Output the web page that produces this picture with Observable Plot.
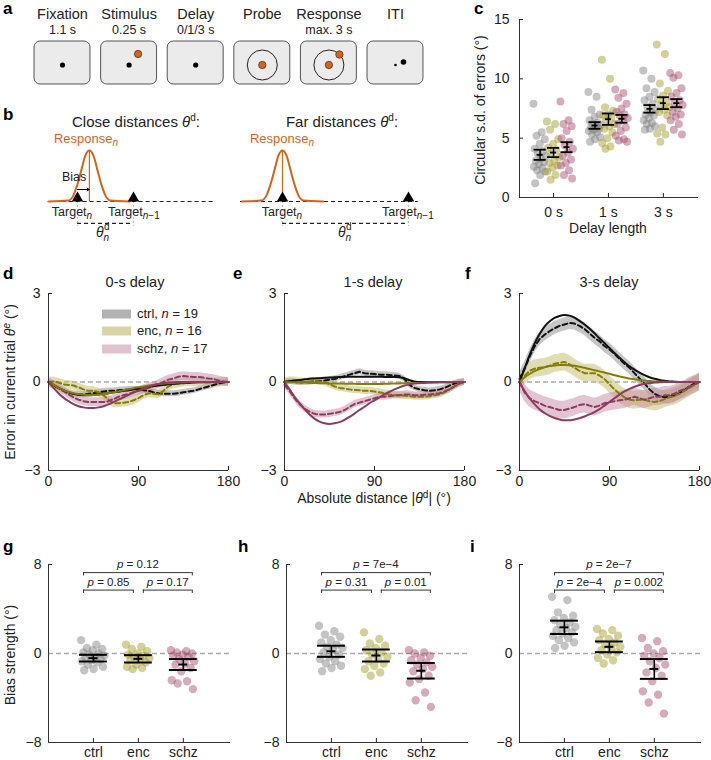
<!DOCTYPE html>
<html><head><meta charset="utf-8">
<script src="https://cdn.jsdelivr.net/npm/d3@7"></script>
<script src="https://cdn.jsdelivr.net/npm/@observablehq/plot@0.6"></script>
<style>
html,body{margin:0;padding:0;background:#fff;}
#fig{position:relative;width:711px;height:760px;overflow:hidden;font-family:"Liberation Sans",Arial,sans-serif;}
#overlay{position:absolute;left:0;top:0;pointer-events:none;}
</style></head><body><div id="fig"></div>
<script>
// ---------- data ----------
const groups = ["ctrl", "enc", "schz"];
const groupN = [19, 16, 17];

// panel a
const screens = ["Fixation", "Stimulus", "Delay", "Probe", "Response", "ITI"];
const durations = ["1.1 s", "0.25 s", "0/1/3 s", "", "max. 3 s", ""];
const fixationScreens = [0, 1, 2];
const probeScreens = [3, 4];
const stimulusScreens = [1];
const responseScreens = [4];
const itiScreens = [5];

// panel b (schematic, degrees)
const bPrevDistance = [40, 90];
const bBias = [8.5, 0];
const bBaselineStart = [-21, -30];
const bBaselineEnd = [97, 97];
const bellOffset = [-29, -15, -11.4, -8.6, -5.7, -2.9, 0, 2.9, 5.7, 8.6, 11.4, 15, 29];
const bellHeight = [0, 0.02, 0.12, 0.33, 0.62, 0.9, 1, 0.9, 0.62, 0.33, 0.12, 0.02, 0];

// panel c: circular s.d. of errors, per group, per delay
const delayLabels = ["0 s", "1 s", "3 s"];
const sdCtrl = [
  [7.9,5.5,5.2,4.9,4.5,4.1,3.9,3.7,3.5,3.3,3.1,3.0,2.8,2.6,2.5,2.3,2.2,1.9,1.2],
  [8.9,8.5,7.4,7.0,6.8,6.5,6.3,6.2,6.1,6.0,5.9,5.8,5.7,5.6,5.5,5.3,5.1,4.9,4.7],
  [10.7,10.0,9.2,8.9,8.5,8.2,7.9,7.6,7.4,7.2,7.0,6.9,6.7,6.5,6.3,6.2,6.0,5.8,5.7]
];
const sdEnc = [
  [6.4,6.2,5.7,4.9,4.5,4.2,4.0,3.7,3.4,3.1,2.9,2.7,2.5,2.2,1.9,1.5],
  [11.6,10.0,7.6,7.3,7.0,6.9,6.7,6.5,6.2,6.0,5.8,5.5,5.0,4.6,4.3,4.1],
  [12.9,12.1,9.6,9.0,8.6,8.3,8.0,7.8,7.6,7.4,7.2,6.9,5.9,5.4,5.3,4.7]
];
const sdSchz = [
  [8.1,6.5,6.2,6.0,5.6,5.0,4.7,4.4,4.1,3.8,3.5,3.2,2.9,2.7,2.3,1.9,1.6],
  [9.1,8.8,8.4,7.9,7.5,7.2,7.0,6.9,6.7,6.5,6.2,5.9,5.6,5.2,4.9,4.8,4.7],
  [10.5,10.3,10.1,9.2,8.8,8.5,8.2,8.0,7.8,7.5,7.2,7.0,6.8,6.5,6.2,5.7,5.3]
];
const sdMean = [[3.6, 6.07, 7.47], [3.79, 6.6, 7.95], [4.24, 6.63, 7.95]];
const sdHalf = [[0.43, 0.28, 0.32], [0.39, 0.48, 0.5], [0.42, 0.33, 0.34]];

// panels d-f: serial bias curves
const panelTitles = ["0-s delay", "1-s delay", "3-s delay"];
const dist = [0,5,10,15,20,25,30,35,40,45,50,55,60,65,70,75,80,85,90,95,100,105,110,115,120,125,130,135,140,145,150,155,160,165,170,175,180];
const fitCtrl = [
  [0,-0.1,-0.2,-0.28,-0.35,-0.4,-0.43,-0.45,-0.45,-0.44,-0.42,-0.4,-0.38,-0.35,-0.33,-0.3,-0.28,-0.25,-0.22,-0.2,-0.17,-0.14,-0.12,-0.1,-0.08,-0.06,-0.05,-0.04,-0.03,-0.02,-0.01,-0.01,0,0,0,0,0],
  [0,0.03,0.05,0.07,0.09,0.11,0.12,0.13,0.14,0.15,0.16,0.17,0.17,0.18,0.18,0.18,0.18,0.18,0.18,0.18,0.17,0.17,0.17,0.16,0.13,0.06,0.02,0,0,0,0,0,0,0,0,0,0],
  [0,0.45,0.9,1.3,1.62,1.88,2.05,2.17,2.24,2.27,2.25,2.18,2.07,1.95,1.81,1.65,1.48,1.32,1.15,0.98,0.82,0.67,0.53,0.42,0.32,0.23,0.16,0.11,0.07,0.04,0.02,0.01,0,0,0,0,0]
];
const meanCtrl = [
  [0,-0.12,-0.2,-0.3,-0.35,-0.4,-0.42,-0.42,-0.4,-0.38,-0.35,-0.32,-0.3,-0.3,-0.28,-0.27,-0.25,-0.24,-0.25,-0.28,-0.3,-0.35,-0.38,-0.4,-0.4,-0.4,-0.38,-0.35,-0.32,-0.3,-0.25,-0.2,-0.15,-0.1,-0.05,-0.02,0],
  [0,0.02,0,-0.02,0,0,0.02,0.03,0.05,0.08,0.1,0.15,0.2,0.25,0.3,0.35,0.3,0.28,0.27,0.25,0.25,0.24,0.22,0.2,0.1,-0.1,-0.2,-0.25,-0.28,-0.3,-0.28,-0.25,-0.2,-0.12,-0.05,0,0],
  [0.1,0.45,0.85,1.2,1.45,1.6,1.72,1.82,1.9,1.95,2.0,1.98,1.9,1.8,1.65,1.5,1.38,1.22,1.1,0.95,0.78,0.62,0.48,0.3,0.12,-0.05,-0.25,-0.4,-0.48,-0.52,-0.5,-0.45,-0.38,-0.28,-0.15,-0.05,0]
];
const fitEnc = [
  [0,-0.1,-0.2,-0.28,-0.34,-0.38,-0.41,-0.43,-0.44,-0.44,-0.43,-0.41,-0.38,-0.35,-0.32,-0.28,-0.25,-0.21,-0.18,-0.15,-0.12,-0.09,-0.07,-0.05,-0.04,-0.03,-0.02,-0.02,-0.01,-0.01,-0.01,0,0,0,0,0,0],
  [0,-0.01,-0.01,-0.02,-0.02,-0.03,-0.03,-0.04,-0.04,-0.05,-0.05,-0.05,-0.06,-0.06,-0.06,-0.07,-0.07,-0.07,-0.07,-0.07,-0.06,-0.06,-0.05,-0.05,-0.04,-0.04,-0.03,-0.03,-0.02,-0.02,-0.01,-0.01,-0.01,0,0,0,0],
  [0,0.15,0.27,0.37,0.44,0.5,0.54,0.56,0.58,0.58,0.57,0.55,0.52,0.48,0.44,0.4,0.36,0.32,0.28,0.23,0.19,0.15,0.12,0.09,0.07,0.05,0.03,0.02,0.01,0.01,0,0,0,0,0,0,0]
];
const meanEnc = [
  [0,0.02,-0.02,-0.08,-0.1,-0.12,-0.18,-0.25,-0.3,-0.3,-0.35,-0.45,-0.6,-0.72,-0.72,-0.7,-0.68,-0.62,-0.55,-0.45,-0.38,-0.4,-0.42,-0.3,-0.15,-0.08,-0.05,-0.02,0,0,0,0,-0.02,-0.02,-0.02,0,0],
  [0,0.05,0.05,0.02,0,0.02,0.03,0.02,0,-0.08,-0.15,-0.2,-0.22,-0.25,-0.27,-0.28,-0.3,-0.3,-0.32,-0.35,-0.38,-0.42,-0.45,-0.45,-0.47,-0.48,-0.5,-0.5,-0.5,-0.48,-0.45,-0.42,-0.35,-0.25,-0.15,-0.05,0],
  [0,0.2,0.38,0.45,0.48,0.5,0.55,0.62,0.65,0.68,0.6,0.48,0.38,0.3,0.3,0.3,0.22,0.1,-0.08,-0.25,-0.4,-0.52,-0.6,-0.62,-0.6,-0.6,-0.65,-0.68,-0.65,-0.58,-0.52,-0.48,-0.4,-0.3,-0.2,-0.1,0]
];
const fitSchz = [
  [0,-0.2,-0.38,-0.53,-0.65,-0.75,-0.82,-0.86,-0.88,-0.88,-0.86,-0.82,-0.76,-0.68,-0.6,-0.52,-0.44,-0.36,-0.29,-0.22,-0.16,-0.11,-0.07,-0.04,-0.02,-0.01,0,0,0,0,0,0,0,0,0,0,0],
  [0,-0.25,-0.5,-0.72,-0.92,-1.1,-1.24,-1.34,-1.4,-1.42,-1.4,-1.36,-1.28,-1.18,-1.07,-0.95,-0.84,-0.72,-0.62,-0.52,-0.42,-0.33,-0.25,-0.18,-0.12,-0.08,-0.05,-0.04,-0.03,-0.02,-0.02,-0.01,-0.01,-0.01,0,0,0],
  [0,-0.3,-0.55,-0.75,-0.92,-1.05,-1.15,-1.22,-1.27,-1.3,-1.3,-1.27,-1.23,-1.17,-1.1,-1.02,-0.92,-0.8,-0.68,-0.55,-0.43,-0.32,-0.23,-0.16,-0.1,-0.06,-0.04,-0.02,-0.01,0,0,0,0,0,0,0,0]
];
const meanSchz = [
  [0,-0.1,-0.2,-0.3,-0.42,-0.52,-0.6,-0.65,-0.68,-0.68,-0.68,-0.68,-0.65,-0.58,-0.5,-0.45,-0.4,-0.35,-0.3,-0.25,-0.2,-0.15,-0.08,0,0.08,0.12,0.18,0.2,0.18,0.17,0.17,0.15,0.12,0.1,0.05,0.02,0],
  [-0.1,-0.3,-0.55,-0.75,-0.9,-1.0,-1.08,-1.1,-1.1,-1.08,-1.05,-1.02,-0.95,-0.85,-0.75,-0.7,-0.65,-0.6,-0.55,-0.5,-0.5,-0.48,-0.45,-0.45,-0.42,-0.42,-0.45,-0.45,-0.43,-0.42,-0.4,-0.38,-0.32,-0.25,-0.15,-0.05,0],
  [0,-0.35,-0.55,-0.65,-0.72,-0.8,-0.85,-0.9,-0.95,-0.95,-0.9,-0.85,-0.78,-0.75,-0.8,-0.85,-0.8,-0.72,-0.68,-0.65,-0.62,-0.6,-0.55,-0.5,-0.55,-0.6,-0.55,-0.5,-0.5,-0.45,-0.45,-0.4,-0.3,-0.25,-0.15,-0.08,0]
];
const bandHalf = [[0.1, 0.15, 0.15], [0.1, 0.12, 0.12], [0.22, 0.3, 0.3]];

// panels g-i: bias strength per subject
const biasCtrl = [
  [1.2,0.8,0.5,0.4,0.3,0.1,0.0,-0.1,-0.2,-0.3,-0.4,-0.5,-0.6,-0.7,-0.8,-1.0,-1.2,-1.4,-1.5],
  [2.5,2.0,1.7,1.5,1.2,1.0,0.8,0.6,0.5,0.3,0.1,-0.1,-0.3,-0.5,-0.7,-0.9,-1.1,-1.3,-1.6],
  [5.1,4.8,3.7,3.4,3.2,3.0,2.8,2.6,2.4,2.3,2.1,1.9,1.8,1.6,1.4,1.2,1.0,0.7,0.5]
];
const biasEnc = [
  [0.8,0.6,0.4,0.2,0.0,-0.1,-0.2,-0.3,-0.4,-0.5,-0.6,-0.8,-1.0,-1.2,-1.3,-1.4],
  [1.9,1.3,0.9,0.7,0.5,0.3,0.1,-0.1,-0.3,-0.5,-0.7,-0.9,-1.1,-1.4,-1.7,-2.0],
  [2.2,2.1,1.8,1.6,1.3,1.2,1.0,0.8,0.6,0.5,0.3,0.1,-0.1,-0.4,-0.6,-0.9]
];
const biasSchz = [
  [0.3,0.2,0.1,0.0,-0.1,-0.2,-0.3,-0.5,-0.7,-0.9,-1.0,-1.3,-1.6,-2.4,-2.5,-2.7,-3.2],
  [0.3,0.1,0.0,-0.2,-0.4,-0.6,-0.8,-1.0,-1.2,-1.4,-1.6,-2.0,-2.3,-2.6,-3.5,-4.2,-4.8],
  [1.4,1.1,0.5,0.2,0.0,-0.2,-0.4,-0.7,-1.0,-1.3,-1.7,-2.0,-2.5,-3.4,-3.7,-4.4,-5.4]
];
const biasMean = [[-0.42, 0.2, 2.35], [-0.48, -0.18, 0.6], [-0.99, -1.55, -1.39]];
const biasHalf = [[0.3, 0.5, 0.6], [0.33, 0.54, 0.48], [0.49, 0.7, 0.89]];
const pPairs = [[0, 2], [0, 1], [1, 2]];
const pLabels = [
  ["p = 0.12", "p = 0.85", "p = 0.17"],
  ["p = 7e−4", "p = 0.31", "p = 0.01"],
  ["p = 2e−7", "p = 2e−4", "p = 0.002"]
];

// ---------- styles ----------
const FONT = '"Liberation Sans", Arial, Helvetica, sans-serif';
const ORANGE = "#d9621a";
const lineColors = ["#111111", "#847e00", "#8b3c60"];
const bandColors = ["#8e8e8e", "#c2bb6a", "#c88aa5"];
const dotColors = ["#7c7c7c", "#9e971c", "#9f4669"];
const baseStyle = {fontFamily: FONT, fontSize: "14px", color: "#222", background: "transparent", overflow: "visible"};
const intFmt = d => d < 0 ? `−${-d}` : `${d}`;
const jit = i => ((i * 0.6180339887) % 1) - 0.5;
const fig = document.getElementById("fig");
function place(el, left, top) {
  el.style.position = "absolute"; el.style.left = left + "px"; el.style.top = top + "px";
  fig.appendChild(el);
}
function errMarks(rows, xf, capW, tickW, sw) {
  return [
    Plot.ruleX(rows, {x: xf, y1: r => r.m - r.h, y2: r => r.m + r.h, stroke: "#000", strokeWidth: sw * 0.8}),
    Plot.ruleY(rows, {y: r => r.m - r.h, x1: r => xf(r) - capW, x2: r => xf(r) + capW, stroke: "#000", strokeWidth: sw}),
    Plot.ruleY(rows, {y: r => r.m + r.h, x1: r => xf(r) - capW, x2: r => xf(r) + capW, stroke: "#000", strokeWidth: sw}),
    Plot.ruleY(rows, {y: r => r.m, x1: r => xf(r) - tickW, x2: r => xf(r) + tickW, stroke: "#000", strokeWidth: sw})
  ];
}

// ---------- panel a ----------
const aRows = screens.map((s, i) => ({i, s, d: durations[i]}));
const pick = idx => aRows.filter(r => idx.includes(r.i));
place(Plot.plot({
  width: 470, height: 95, marginLeft: 62, marginRight: 75, marginTop: 41, marginBottom: 11,
  style: baseStyle,
  x: {domain: [0, 5], axis: null}, y: {domain: [-1, 1], axis: null},
  marks: [
    Plot.rect(aRows, {x1: r => r.i - 0.42, x2: r => r.i + 0.42, y1: -1, y2: 1, rx: 6, fill: "#ebebeb", stroke: "#555", strokeWidth: 1}),
    Plot.text(aRows, {x: "i", text: "s", frameAnchor: "top", dy: -23, lineAnchor: "bottom", fontSize: 14.5}),
    Plot.text(aRows, {x: "i", text: "d", frameAnchor: "top", dy: -8, lineAnchor: "bottom", fontSize: 12.5}),
    Plot.dot(pick(fixationScreens), {x: "i", y: 0, dy: 2, r: 2.6, fill: "#000"}),
    Plot.dot(pick(probeScreens), {x: "i", y: 0, dy: 2, r: 15, stroke: "#222", fill: "none", strokeWidth: 1}),
    Plot.dot(pick(probeScreens), {x: "i", y: 0, dy: 2, r: 3.7, fill: ORANGE, stroke: "#333", strokeWidth: 0.7}),
    Plot.dot(pick(stimulusScreens), {x: "i", y: 0, dx: 9, dy: -9, r: 3.7, fill: ORANGE, stroke: "#333", strokeWidth: 0.7}),
    Plot.dot(pick(responseScreens), {x: "i", y: 0, dx: 10.5, dy: -8.5, r: 3.7, fill: ORANGE, stroke: "#333", strokeWidth: 0.7}),
    Plot.dot(pick(itiScreens), {x: "i", y: 0, dy: 2, r: 1.3, fill: "#000"}),
    Plot.dot(pick(itiScreens), {x: "i", y: 0, dx: 8, dy: -1, r: 2.8, fill: "#000"})
  ]
}), 0, 0);

// ---------- panel b ----------
function plotB(k) {
  const dom = k === 0 ? [-55, 112.86] : [-33.57, 134.29];
  const T = 0, P = bPrevDistance[k], R = bBias[k];
  const bell = bellOffset.map((o, j) => ({x: R + o, y: bellHeight[j]}));
  return Plot.plot({
    width: 235, height: 150, margin: 0, style: baseStyle,
    x: {domain: dom, axis: null}, y: {domain: [-0.961, 1.98], axis: null},
    marks: [
      Plot.ruleX([T, P], {y1: 0, y2: -0.49, stroke: "#aaa", strokeDasharray: "2,2", strokeWidth: 0.8}),
      Plot.ruleY([0], {x1: bBaselineStart[k], x2: bBaselineEnd[k], stroke: "#222", strokeDasharray: "4,3", strokeWidth: 1.2}),
      Plot.ruleY([-0.43], {x1: T, x2: P, stroke: "#222", strokeDasharray: "4,3", strokeWidth: 1.2}),
      Plot.line(bell, {x: "x", y: "y", stroke: ORANGE, strokeWidth: 2, curve: "monotone-x"}),
      Plot.ruleX([R], {y1: 0, y2: 1, stroke: ORANGE, strokeWidth: 1.2}),
      Plot.dot([T, P], {x: d => d, y: 0, symbol: "triangle", r: 4.3, dy: -3.3, fill: "#000"}),
      k === 0 ? Plot.arrow([{a: T, b: R}], {x1: "a", x2: "b", y1: 0.235, y2: 0.235, stroke: "#000", strokeWidth: 1, headLength: 4}) : null
    ]
  });
}
place(plotB(0), 0, 100);
place(plotB(1), 235, 100);

// ---------- panel c ----------
const cSd = [sdCtrl, sdEnc, sdSchz];
const cRows = [];
cSd.forEach((byDelay, gi) => byDelay.forEach((vals, di) => vals.forEach((v, i) => cRows.push({gi, di, v, i}))));
const cOff = [-0.245, 0, 0.245];
const cErr = [];
groups.forEach((g, gi) => delayLabels.forEach((l, di) => cErr.push({gi, di, m: sdMean[gi][di], h: sdHalf[gi][di]})));
const cx = r => r.di + cOff[r.gi];
place(Plot.plot({
  width: 241, height: 225, marginLeft: 49, marginRight: 13, marginTop: 19, marginBottom: 28,
  style: baseStyle,
  color: {type: "identity"},
  x: {domain: [-0.62, 2.64], ticks: [0, 1, 2], tickFormat: i => delayLabels[i], tickSize: -4, tickPadding: 14, label: null},
  y: {domain: [0, 15], ticks: [0, 5, 10, 15], tickFormat: intFmt, tickSize: -4, tickPadding: 14, label: null},
  marks: [
    Plot.ruleX([-0.62], {stroke: "#333"}),
    Plot.ruleY([0], {stroke: "#333"}),
    Plot.dot(cRows, {x: r => cx(r) + jit(r.i) * 0.24, y: "v", r: 4, fill: r => dotColors[r.gi], fillOpacity: 0.45}),
    ...errMarks(cErr, cx, 0.11, 0.055, 1.8)
  ]
}), 470, 0);

// ---------- panels d-f ----------
const fits = [fitCtrl, fitEnc, fitSchz];
const means = [meanCtrl, meanEnc, meanSchz];
function curvePanel(p) {
  const rowsBy = groups.map((g, gi) => dist.map((x, k) => ({x, fit: fits[gi][p][k], mean: means[gi][p][k], h: bandHalf[p][gi]})));
  return Plot.plot({
    width: 235, height: 225, marginLeft: 48, marginRight: 7, marginTop: 18, marginBottom: 30,
    style: baseStyle,
    x: {domain: [0, 180], ticks: [0, 90, 180], tickFormat: intFmt, tickSize: -4, tickPadding: 10, label: null},
    y: {domain: [-3, 3], ticks: [-3, 0, 3], tickFormat: intFmt, tickSize: -4, tickPadding: 12, label: null},
    marks: [
      Plot.ruleY([0], {stroke: "#aaa", strokeWidth: 1.5, strokeDasharray: "5,3"}),
      ...rowsBy.map((rows, gi) => Plot.areaY(rows, {x: "x", y1: r => r.mean - r.h, y2: r => r.mean + r.h, fill: bandColors[gi], fillOpacity: 0.5})),
      ...rowsBy.map((rows, gi) => Plot.line(rows, {x: "x", y: "mean", stroke: lineColors[gi], strokeWidth: 2, strokeDasharray: "5,3"})),
      ...rowsBy.map((rows, gi) => Plot.line(rows, {x: "x", y: "fit", stroke: lineColors[gi], strokeWidth: 2, curve: "monotone-x"})),
      Plot.ruleX([0], {stroke: "#333"}),
      Plot.ruleY([-3], {stroke: "#333"})
    ]
  });
}
place(curvePanel(0), 0, 275);
place(curvePanel(1), 236, 275);
place(curvePanel(2), 471, 275);

// ---------- panels g-i ----------
const biasSets = [biasCtrl, biasEnc, biasSchz];
const bracketY = [5.7, 7.27];
const bx1 = r => r.a === 0 ? r.a - 0.22 : r.a + 0.11;
const bx2 = r => r.b === 2 ? r.b + 0.2 : r.b - 0.11;
function biasPanel(p) {
  const dots = [];
  biasSets.forEach((set, gi) => set[p].forEach((v, i) => dots.push({gi, v, i})));
  const err = groups.map((g, gi) => ({gi, m: biasMean[gi][p], h: biasHalf[gi][p]}));
  const br = pPairs.map(([a, b], j) => ({a, b, label: pLabels[p][j], level: (a === 0 && b === 2) ? 1 : 0}));
  const svg = Plot.plot({
    width: 240, height: 214, marginLeft: 48, marginRight: 10, marginTop: 18, marginBottom: 18,
    style: baseStyle,
    color: {type: "identity"},
    x: {domain: [-1, 3.05], ticks: [0, 1, 2], tickFormat: i => groups[i], tickSize: -4, tickPadding: 9, label: null},
    y: {domain: [-8, 8], ticks: [-8, 0, 8], tickFormat: intFmt, tickSize: -4, tickPadding: 11, label: null},
    marks: [
      Plot.ruleY([0], {stroke: "#aaa", strokeWidth: 1.5, strokeDasharray: "5,3"}),
      Plot.ruleX([-1], {stroke: "#333"}),
      Plot.ruleY([-8], {stroke: "#333"}),
      Plot.dot(dots, {x: r => r.gi + jit(r.i) * 0.55, y: "v", r: 4.2, fill: r => dotColors[r.gi], fillOpacity: 0.45}),
      ...errMarks(err, r => r.gi, 0.31, 0.1, 2),
      Plot.ruleY(br, {y: r => bracketY[r.level], x1: bx1, x2: bx2, stroke: "#333", strokeWidth: 1}),
      Plot.ruleX(br, {x: bx1, y1: r => bracketY[r.level] - 0.3, y2: r => bracketY[r.level], stroke: "#333", strokeWidth: 1}),
      Plot.ruleX(br, {x: bx2, y1: r => bracketY[r.level] - 0.3, y2: r => bracketY[r.level], stroke: "#333", strokeWidth: 1}),
      Plot.text(br, {x: r => (bx1(r) + bx2(r)) / 2, y: r => bracketY[r.level] + 0.72, text: "label", fontSize: 11.5})
    ]
  });
  svg.querySelectorAll("text").forEach(el => {
    const s = el.textContent;
    if (s.startsWith("p = ")) el.innerHTML = '<tspan font-style="italic">p</tspan>' + s.slice(1);
  });
  return svg;
}
place(biasPanel(0), 0, 546);
place(biasPanel(1), 238, 546);
place(biasPanel(2), 471, 546);

// ---------- text overlay ----------
const ov = [];
function t(x, y, html, o = {}) {
  ov.push(`<text x="${x}" y="${y}" font-size="${o.fs || 14}" text-anchor="${o.anchor || "start"}"${o.bold ? ' font-weight="bold"' : ""} fill="${o.fill || "#222"}"${o.rot ? ` transform="rotate(-90 ${x} ${y})"` : ""}>${html}</text>`);
}
const it = s => `<tspan font-style="italic">${s}</tspan>`;
const subN = `<tspan dy="3" font-size="10" font-style="italic">n</tspan>`;
const subN1 = `<tspan dy="3" font-size="10"><tspan font-style="italic">n</tspan>−1</tspan>`;
// letters
[["a",3,14],["b",3,120],["c",474,14],["d",3,279],["e",233,279],["f",465,279],["g",3,552],["h",238,552],["i",470,552]]
  .forEach(([l, x, y]) => t(x, y, l, {fs: 17, bold: true, fill: "#000"}));
// panel b
t(136, 127, `Close distances ${it("θ")}<tspan dy="-6" font-size="10">d</tspan><tspan dy="6">:</tspan>`, {fs: 15, anchor: "middle"});
t(342, 127, `Far distances ${it("θ")}<tspan dy="-6" font-size="10">d</tspan><tspan dy="6">:</tspan>`, {fs: 15, anchor: "middle"});
t(86, 143, `Response${subN}`, {fs: 13, anchor: "middle", fill: ORANGE});
t(282, 143, `Response${subN}`, {fs: 13, anchor: "middle", fill: ORANGE});
t(62, 181, "Bias", {fs: 12.5});
t(72, 216, `Target${subN}`, {fs: 12.5, anchor: "middle"});
t(108, 216, `Target${subN1}`, {fs: 12.5});
t(282, 216, `Target${subN}`, {fs: 12.5, anchor: "middle"});
t(382, 216, `Target${subN1}`, {fs: 12.5});
t(96, 237, `${it("θ")}<tspan dy="4" font-size="10" font-style="italic">n</tspan><tspan x="104" dy="-11" font-size="10">d</tspan>`, {fs: 14});
t(338, 237, `${it("θ")}<tspan dy="4" font-size="10" font-style="italic">n</tspan><tspan x="346" dy="-11" font-size="10">d</tspan>`, {fs: 14});
// panel c
t(485, 110, "Circular s.d. of errors (°)", {fs: 14, anchor: "middle", rot: true});
t(608, 233, "Delay length", {fs: 14, anchor: "middle"});
// panels d-f
[135, 373, 609].forEach((x, p) => t(x, 287, panelTitles[p], {fs: 14.5, anchor: "middle"}));
t(15, 382, `Error in current trial ${it("θ")}<tspan dy="-5" font-size="10" font-style="italic">e</tspan><tspan dy="5"> (°)</tspan>`, {fs: 14, anchor: "middle", rot: true});
t(374, 503, `Absolute distance |${it("θ")}<tspan dy="-5" font-size="10">d</tspan><tspan dy="5">| (°)</tspan>`, {fs: 14, anchor: "middle"});
const swatch = ["#b2b2b2", "#d9d4a6", "#e0c2cf"];
groups.forEach((g, gi) => {
  const yc = [314, 331, 349][gi];
  ov.push(`<rect x="102" y="${yc - 4.5}" width="29" height="9" fill="${swatch[gi]}"/>`);
  t(137, yc + 4, `${g}, ${it("n")} = ${groupN[gi]}`, {fs: 13});
});
// panels g-i
t(15, 655, "Bias strength (°)", {fs: 14, anchor: "middle", rot: true});

fig.insertAdjacentHTML("beforeend", `<svg id="overlay" width="711" height="760" font-family='${FONT}'>${ov.join("")}</svg>`);
</script></body></html>
